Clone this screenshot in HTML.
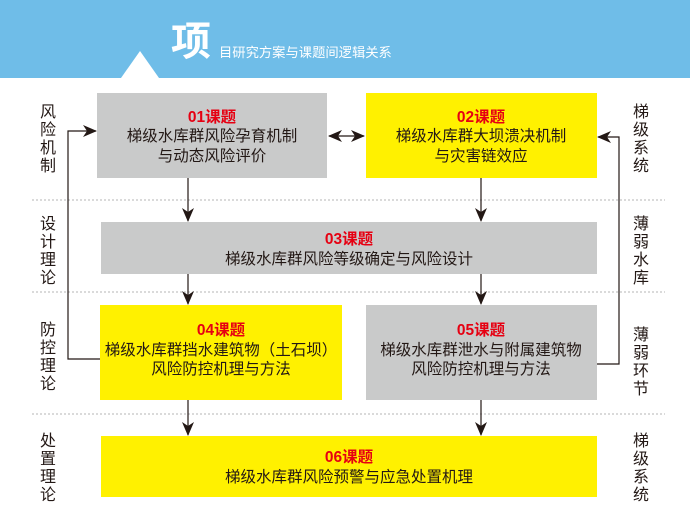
<!DOCTYPE html>
<html><head><meta charset="utf-8"><style>
html,body{margin:0;padding:0;background:#fff;}
svg{display:block;}
text{font-family:"Liberation Sans","Noto Sans CJK SC",sans-serif;}
</style></head><body>
<svg width="690" height="518" viewBox="0 0 690 518" xmlns="http://www.w3.org/2000/svg">
<defs>
<marker id="ah" markerWidth="14" markerHeight="12" refX="13" refY="6" orient="auto" markerUnits="userSpaceOnUse">
<path d="M0,0 L14,6 L0,12 L4,6 Z" fill="#231815"/></marker>
<marker id="ahs" markerWidth="14" markerHeight="12" refX="1" refY="6" orient="auto" markerUnits="userSpaceOnUse">
<path d="M14,0 L0,6 L14,12 L10,6 Z" fill="#231815"/></marker>
</defs>
<rect x="0" y="0" width="690" height="78" fill="#6fbde8"/>
<polygon points="121,78 140,51 159,78" fill="#fff"/>
<text x="171" y="55" font-size="40" font-weight="bold" fill="#fff">项</text>
<text x="219" y="57" font-size="13.3" fill="#fff">目研究方案与课题间逻辑关系</text>

<g stroke="#b5b5b5" stroke-width="1" stroke-dasharray="2,2">
<line x1="32" y1="200" x2="665" y2="200"/>
<line x1="32" y1="292" x2="665" y2="292"/>
<line x1="32" y1="414" x2="665" y2="414"/>
</g>

<g font-size="16" fill="#231815" text-anchor="middle">
<text x="48" y="117">风</text><text x="48" y="135">险</text><text x="48" y="153">机</text><text x="48" y="171">制</text>
<text x="48" y="229">设</text><text x="48" y="247">计</text><text x="48" y="265">理</text><text x="48" y="283">论</text>
<text x="48" y="335">防</text><text x="48" y="353">控</text><text x="48" y="371">理</text><text x="48" y="389">论</text>
<text x="48" y="446">处</text><text x="48" y="464">置</text><text x="48" y="482">理</text><text x="48" y="500">论</text>
<text x="641" y="117">梯</text><text x="641" y="135">级</text><text x="641" y="153">系</text><text x="641" y="171">统</text>
<text x="641" y="229">薄</text><text x="641" y="247">弱</text><text x="641" y="265">水</text><text x="641" y="283">库</text>
<text x="641" y="340">薄</text><text x="641" y="358">弱</text><text x="641" y="376">环</text><text x="641" y="394">节</text>
<text x="641" y="446">梯</text><text x="641" y="464">级</text><text x="641" y="482">系</text><text x="641" y="500">统</text>
</g>

<rect x="97" y="93" width="230" height="85" fill="#c9caca"/>
<rect x="366" y="93" width="231" height="85" fill="#fff100"/>
<rect x="101" y="222" width="496" height="52" fill="#c9caca"/>
<rect x="100" y="305" width="242" height="95" fill="#fff100"/>
<rect x="366" y="305" width="231" height="95" fill="#c9caca"/>
<rect x="101" y="436" width="496" height="61" fill="#fff100"/>

<g stroke="#231815" stroke-width="1.2" fill="none">
<line x1="188" y1="178" x2="188" y2="221" marker-end="url(#ah)"/>
<line x1="188" y1="274" x2="188" y2="304" marker-end="url(#ah)"/>
<line x1="188" y1="400" x2="188" y2="435" marker-end="url(#ah)"/>
<line x1="481" y1="178" x2="481" y2="221" marker-end="url(#ah)"/>
<line x1="481" y1="274" x2="481" y2="304" marker-end="url(#ah)"/>
<line x1="481" y1="400" x2="481" y2="435" marker-end="url(#ah)"/>
<line x1="329" y1="136" x2="364" y2="136" marker-start="url(#ahs)" marker-end="url(#ah)"/>
<polyline points="100,359 68,359 68,131 96,131" marker-end="url(#ah)"/>
<polyline points="597,364 619,364 619,137 598,137" marker-end="url(#ah)"/>
</g>

<g text-anchor="middle" font-size="15.5" fill="#231815">
<text x="212" y="122" fill="#e60012" font-weight="bold">01课题</text>
<text x="212" y="141">梯级水库群风险孕育机制</text>
<text x="212" y="161">与动态风险评价</text>
<text x="481" y="122" fill="#e60012" font-weight="bold">02课题</text>
<text x="481" y="141">梯级水库群大坝溃决机制</text>
<text x="481" y="161">与灾害链效应</text>
<text x="349" y="244" fill="#e60012" font-weight="bold">03课题</text>
<text x="349" y="264">梯级水库群风险等级确定与风险设计</text>
<text x="221" y="335" fill="#e60012" font-weight="bold">04课题</text>
<text x="221" y="355">梯级水库群挡水建筑物（土石坝）</text>
<text x="221" y="374">风险防控机理与方法</text>
<text x="481" y="335" fill="#e60012" font-weight="bold">05课题</text>
<text x="481" y="355">梯级水库群泄水与附属建筑物</text>
<text x="481" y="374">风险防控机理与方法</text>
<text x="349" y="462" fill="#e60012" font-weight="bold">06课题</text>
<text x="349" y="482">梯级水库群风险预警与应急处置机理</text>
</g>
</svg>
</body></html>
